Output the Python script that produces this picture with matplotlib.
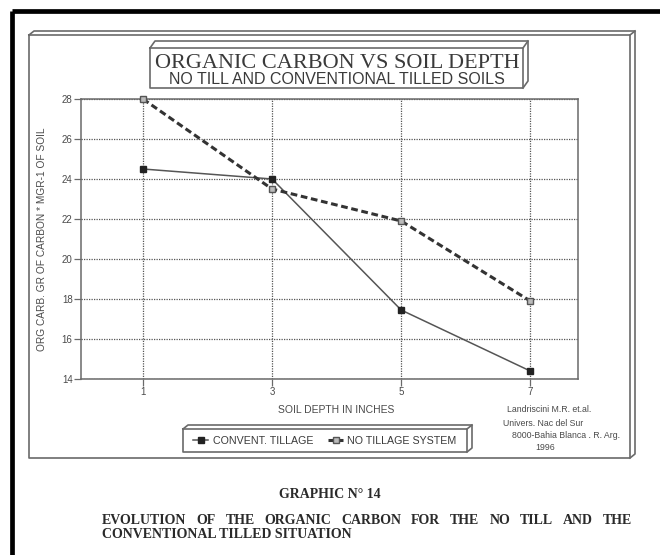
import matplotlib
matplotlib.use("Agg")
import matplotlib.pyplot as plt

# data
depth = [1, 3, 5, 7]
convent_tillage = [24.5, 24.0, 17.45, 14.4]
no_tillage = [28.0, 23.5, 21.9, 17.9]
y_ticks = [14, 16, 18, 20, 22, 24, 26, 28]
x_ticks = [1, 3, 5, 7]

W, H = 660, 555
INK = "#4a4a4a"
SANS = ["Liberation Sans", "DejaVu Sans"]
SERIF = ["Liberation Serif", "DejaVu Serif"]


def box3d(ax, x0, y0, x1, y1, dx, dy, lw=1.0, color="#6a6a6a"):
    """front face plus extrusion to the upper right (pixel coords)"""
    ax.plot([x0, x1, x1, x0, x0], [y0, y0, y1, y1, y0], color=color, lw=lw)
    ax.plot([x0, x0 + dx, x1 + dx, x1 + dx, x1],
            [y0, y0 + dy, y0 + dy, y1 + dy, y1], color=color, lw=lw)
    ax.plot([x1, x1 + dx], [y0, y0 + dy], color=color, lw=lw)


def justified(ax, fig, x0, x1, y, line, **kw):
    """spread the words of one line so it spans x0..x1 (pixel coords)"""
    words = line.split()
    r = fig.canvas.get_renderer()
    texts, widths = [], []
    for w in words:
        t = ax.text(0, y, w, ha="left", va="baseline", **kw)
        widths.append(t.get_window_extent(renderer=r).width)
        texts.append(t)
    gap = (x1 - x0 - sum(widths)) / (len(words) - 1)
    x = x0
    for t, wd in zip(texts, widths):
        t.set_x(x)
        x += wd + gap


fig = plt.figure(figsize=(W / 100, H / 100), dpi=100)

# background layer in pixel coordinates
bg = fig.add_axes([0, 0, 1, 1], zorder=0)
bg.set_xlim(0, W)
bg.set_ylim(H, 0)
bg.axis("off")

# black page border (top and left)
bg.plot([11.5, W], [10.5, 10.5], color="black", lw=3.4, solid_capstyle="butt")
bg.plot([11.5, 11.5], [10.5, H], color="black", lw=3.4, solid_capstyle="butt")

# outer 3d frame, title box, legend box
box3d(bg, 29, 35, 630, 458, 5, -4, lw=1.2)
box3d(bg, 150, 48, 523, 88, 5, -7, lw=1.2)
box3d(bg, 183, 429, 467, 452, 5, -4, lw=1.2)

bg.text(337, 68, "ORGANIC CARBON VS SOIL DEPTH", family=SERIF, fontsize=16,
        color="#3a3a3a", ha="center", va="baseline")
bg.text(337, 83.5, "NO TILL AND CONVENTIONAL TILLED SOILS", family=SANS,
        fontsize=11.5, color="#3a3a3a", ha="center", va="baseline")

# credits
cred_kw = dict(family=SANS, fontsize=6.3, color=INK, va="center")
bg.text(507, 410, "Landriscini M.R. et.al.", **cred_kw)
bg.text(503, 423, "Univers. Nac del Sur", **cred_kw)
bg.text(512, 435, "8000-Bahia Blanca . R. Arg.", **cred_kw)
bg.text(545, 447, "1996", ha="center", **cred_kw)

# caption under the frame
cap_kw = dict(family=SERIF, fontweight="bold", fontsize=10, color="#2a2a2a")
bg.text(330, 498, "GRAPHIC N° 14", ha="center", va="baseline", **cap_kw)
justified(bg, fig, 102, 632, 524,
          "EVOLUTION OF THE ORGANIC CARBON FOR THE NO TILL AND THE", **cap_kw)
bg.text(102, 538, "CONVENTIONAL TILLED SITUATION", ha="left", va="baseline", **cap_kw)

# main plot
left, right, top, bottom = 81, 578, 99, 379
ax = fig.add_axes([left / W, 1 - bottom / H, (right - left) / W, (bottom - top) / H],
                  zorder=1)
ax.set_facecolor("none")

ax.plot(depth, convent_tillage, color="#555555", lw=1.1, marker="s",
        ms=4.5, mfc="#222222", mec="#222222", label="CONVENT. TILLAGE",
        zorder=3, clip_on=False)
ax.plot(depth, no_tillage, color="#333333", lw=2.2, ls=(0, (2.2, 1.2)),
        marker="s", ms=4.5, mfc="#bbbbbb", mec="#555555",
        label="NO TILLAGE SYSTEM", zorder=3, clip_on=False)

ax.set_xlim(0.04, 7.74)
ax.set_ylim(14, 28)
ax.set_xticks(x_ticks)
ax.set_yticks(y_ticks)
ax.grid(True, ls=(0, (1, 1)), color="#555555", lw=0.9)
for s in ax.spines.values():
    s.set_color("#6a6a6a")
    s.set_linewidth(1.1)
ax.tick_params(direction="out", length=5, width=0.9, color="#6a6a6a",
               labelsize=7, labelcolor=INK, pad=1)
for lab in ax.get_xticklabels() + ax.get_yticklabels():
    lab.set_family(SANS)

ax.set_xlabel("SOIL DEPTH IN INCHES", family=SANS, fontsize=7.5, color=INK)
ax.xaxis.set_label_coords((336 - left) / (right - left), -(405 - bottom) / (bottom - top))
ax.set_ylabel("ORG CARB. GR OF CARBON * MGR-1 OF SOIL", family=SANS,
              fontsize=7.3, color=INK)
ax.yaxis.set_label_coords(-(81 - 47) / (right - left), 0.5)

leg = fig.legend(loc="center", bbox_to_anchor=(325 / W, 1 - 440.5 / H),
                 ncol=2, frameon=False, handlelength=1.4, handletextpad=0.4,
                 columnspacing=1.4, prop={"family": SANS, "size": 7.7})
for t in leg.get_texts():
    t.set_color("#3a3a3a")

fig.savefig("out.png", dpi=100)
